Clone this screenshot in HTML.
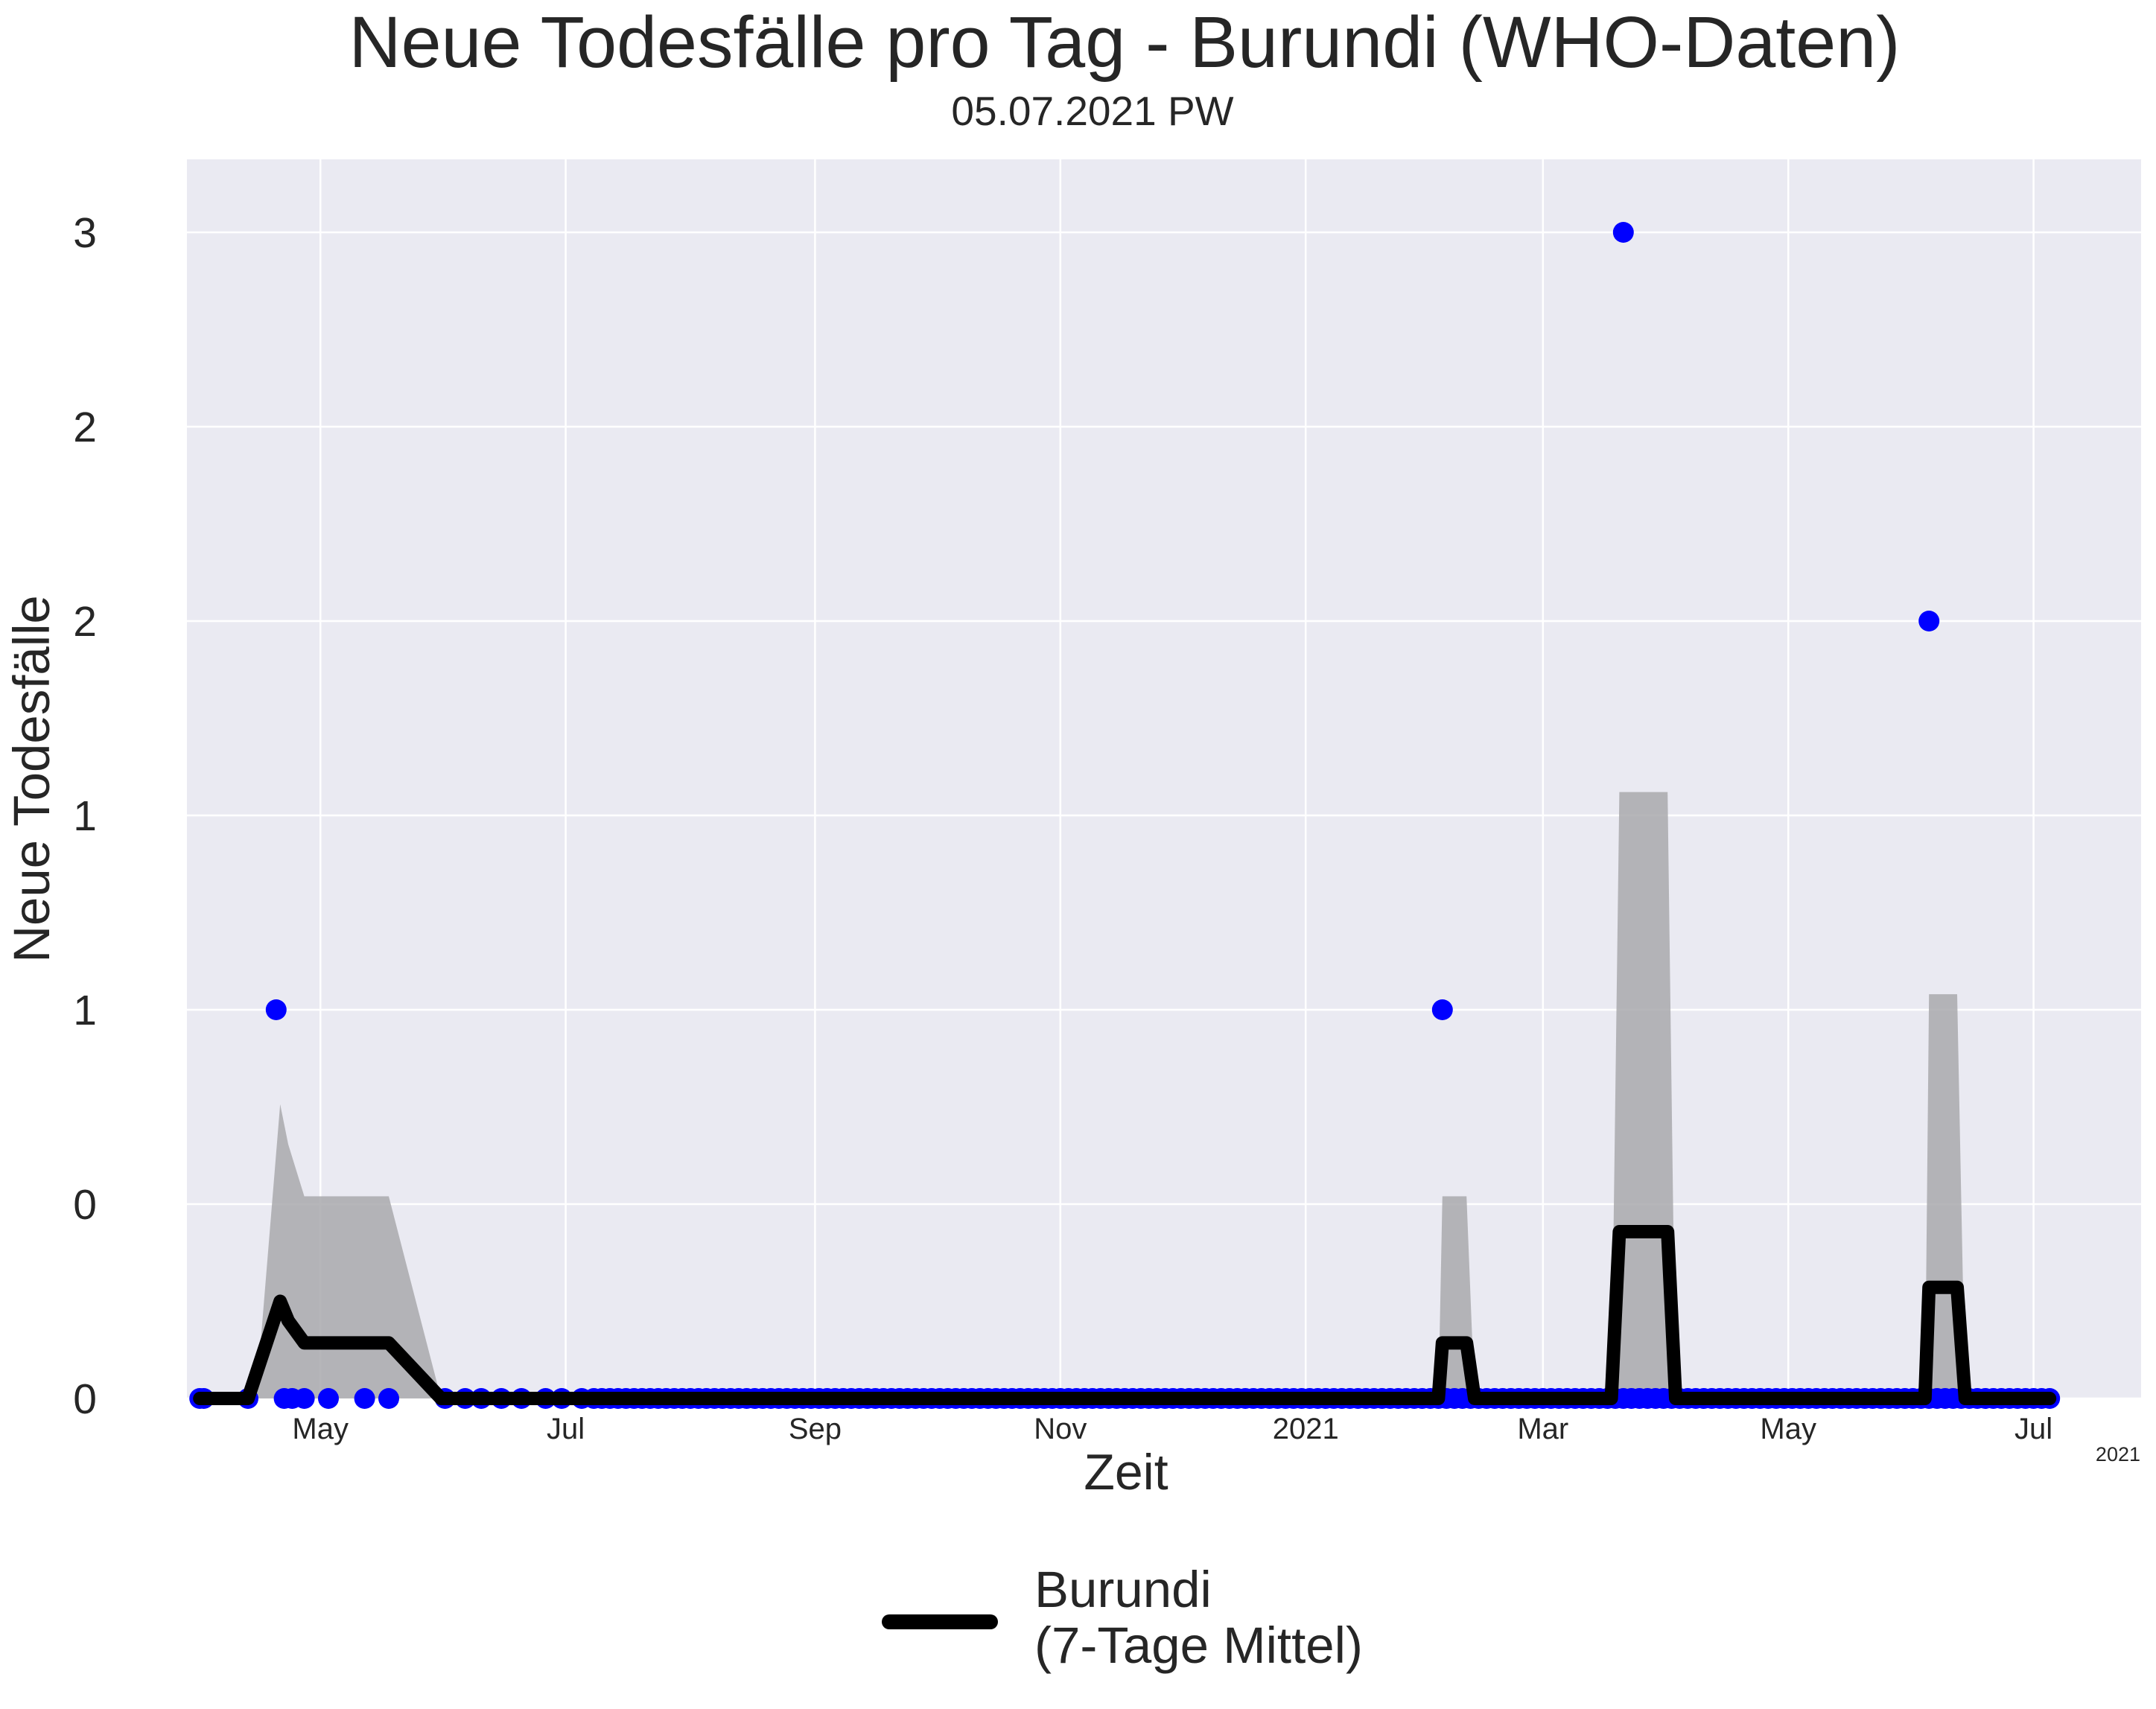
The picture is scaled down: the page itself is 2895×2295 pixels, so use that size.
<!DOCTYPE html>
<html><head><meta charset="utf-8"><style>
html,body{margin:0;padding:0;background:#fff}
svg{display:block;font-family:"Liberation Sans",sans-serif}
</style></head><body>
<svg id="chart" width="2895" height="2295" viewBox="0 0 2895 2295">
<text x="1510" y="90" font-size="97" fill="#262626" text-anchor="middle">Neue Todesfälle pro Tag - Burundi (WHO-Daten)</text>
<text x="1467" y="168" font-size="55" fill="#262626" text-anchor="middle">05.07.2021 PW</text>
<rect x="251" y="214" width="2624" height="1664" fill="#eaeaf2"/>
<g id="grid"></g>
<g id="band"></g>
<g id="dots"></g>
<g id="line"></g>
<g id="axes"></g>
<text x="1512" y="2000" font-size="68" fill="#262626" text-anchor="middle">Zeit</text>
<text x="2874" y="1962" font-size="27" fill="#262626" text-anchor="end">2021</text>
<text transform="translate(66,1046) rotate(-90)" font-size="69" fill="#262626" text-anchor="middle">Neue Todesfälle</text>
<g>
<line x1="1194" y1="2178" x2="1330" y2="2178" stroke="#000" stroke-width="20" stroke-linecap="round"/>
<text x="1389" y="2158" font-size="69" fill="#262626">Burundi</text>
<text x="1389" y="2233" font-size="69" fill="#262626">(7-Tage Mittel)</text>
</g>
</svg>
<script>
const monthTicks = ["2020-05-01","2020-07-01","2020-09-01","2020-11-01","2021-01-01","2021-03-01","2021-05-01","2021-07-01"];
const monthLabels = ["May","Jul","Sep","Nov","2021","Mar","May","Jul"];
const yTicks = [0,0.5,1,1.5,2,2.5,3];
const yLabels = ["0","0","1","1","2","2","3"];
const meanDates = ["2020-04-01","2020-04-13","2020-04-21","2020-04-23","2020-04-27","2020-05-18","2020-05-31","2021-02-03","2021-02-04","2021-02-10","2021-02-12","2021-03-18","2021-03-20","2021-04-01","2021-04-03","2021-06-04","2021-06-05","2021-06-12","2021-06-14","2021-07-05"];
const meanValues = [0,0,0.25,0.2,0.143,0.143,0,0,0.143,0.143,0,0,0.429,0.429,0,0,0.286,0.286,0,0];
const bandDates = ["2020-04-01","2020-04-15","2020-04-21","2020-04-23","2020-04-27","2020-05-18","2020-05-31","2021-02-03","2021-02-04","2021-02-10","2021-02-12","2021-03-18","2021-03-20","2021-04-01","2021-04-03","2021-06-04","2021-06-05","2021-06-12","2021-06-14","2021-07-05"];
const bandUpper = [0,0,0.757,0.654,0.52,0.52,0,0,0.52,0.52,0,0,1.56,1.56,0,0,1.04,1.04,0,0];
const pointDates = ["2020-04-20","2021-02-04","2021-03-21","2021-06-05"];
const pointValues = [1,1,3,2];
const zeroDays = [-30,-29,-18,-9,-7,-4,2,11,17,31,36,40,45,50,56,60,65,68,70,72,74,76,78,80,82,84,86,88,90,92,94,96,98,100,102,104,106,108,110,112,114,116,118,120,122,124,126,128,130,132,134,136,138,140,142,144,146,148,150,152,154,156,158,160,162,164,166,168,170,172,174,176,178,180,182,184,186,188,190,192,194,196,198,200,202,204,206,208,210,212,214,216,218,220,222,224,226,228,230,232,234,236,238,240,242,244,246,248,250,252,254,256,258,260,262,264,266,268,270,272,274,276,278,280,282,284,286,288,290,292,294,296,298,300,302,304,306,308,310,312,314,316,318,320,322,324,326,328,330,332,334,336,338,340,342,344,346,348,350,352,354,356,358,360,362,364,366,368,370,372,374,376,378,380,382,384,386,388,390,392,394,396,398,400,402,404,406,408,410,412,414,416,418,420,422,424,426,428,430];

const NS="http://www.w3.org/2000/svg";
const L=251,R=2875,T=214,B=1878;
const base=Date.UTC(2020,4,1);
function dayOf(s){const p=s.split("-");return (Date.UTC(+p[0],+p[1]-1,+p[2])-base)/86400000;}
function xd(d){return 430.2+d*5.400;}
function x(s){return xd(dayOf(s));}
function y(v){return B-v*522;}
function mk(tag,attrs,parent){const e=document.createElementNS(NS,tag);for(const k in attrs)e.setAttribute(k,attrs[k]);document.getElementById(parent).appendChild(e);return e;}

monthTicks.forEach((m,i)=>{
  const g=mk("line",{x1:x(m),x2:x(m),y1:T,y2:B,stroke:"#fff","stroke-width":2.5},"grid");
  
  
  const t=mk("text",{x:x(m),y:1932,"font-size":40,fill:"#262626","text-anchor":"middle"},"axes");
  t.textContent=monthLabels[i];
  
  
});
yTicks.forEach((v,i)=>{
  const g=mk("line",{x1:L,x2:R,y1:y(v),y2:y(v),stroke:"#fff","stroke-width":2.5},"grid");
  
  
  const t=mk("text",{x:130,y:y(v)+20,"font-size":57,fill:"#262626","text-anchor":"end"},"axes");
  t.textContent=yLabels[i];
  
  
});
let bp=bandDates.map((d,i)=>x(d)+","+y(bandUpper[i])).join(" ");
bp+=" "+x(bandDates[bandDates.length-1])+","+y(0)+" "+x(bandDates[0])+","+y(0);
const band=mk("polygon",{points:bp,fill:"#a9a9ad","fill-opacity":0.85},"band");


zeroDays.forEach(d=>{
  const c=mk("circle",{cx:xd(d),cy:y(0),r:14,fill:"#0000ff"},"dots");
  
  
});
pointDates.forEach((d,i)=>{
  const c=mk("circle",{cx:x(d),cy:y(pointValues[i]),r:14,fill:"#0000ff"},"dots");
  
  
});
const lp=meanDates.map((d,i)=>x(d)+","+y(meanValues[i])).join(" ");
const ln=mk("polyline",{points:lp,fill:"none",stroke:"#000","stroke-width":18,"stroke-linejoin":"round","stroke-linecap":"round"},"line");


</script>
</body></html>
